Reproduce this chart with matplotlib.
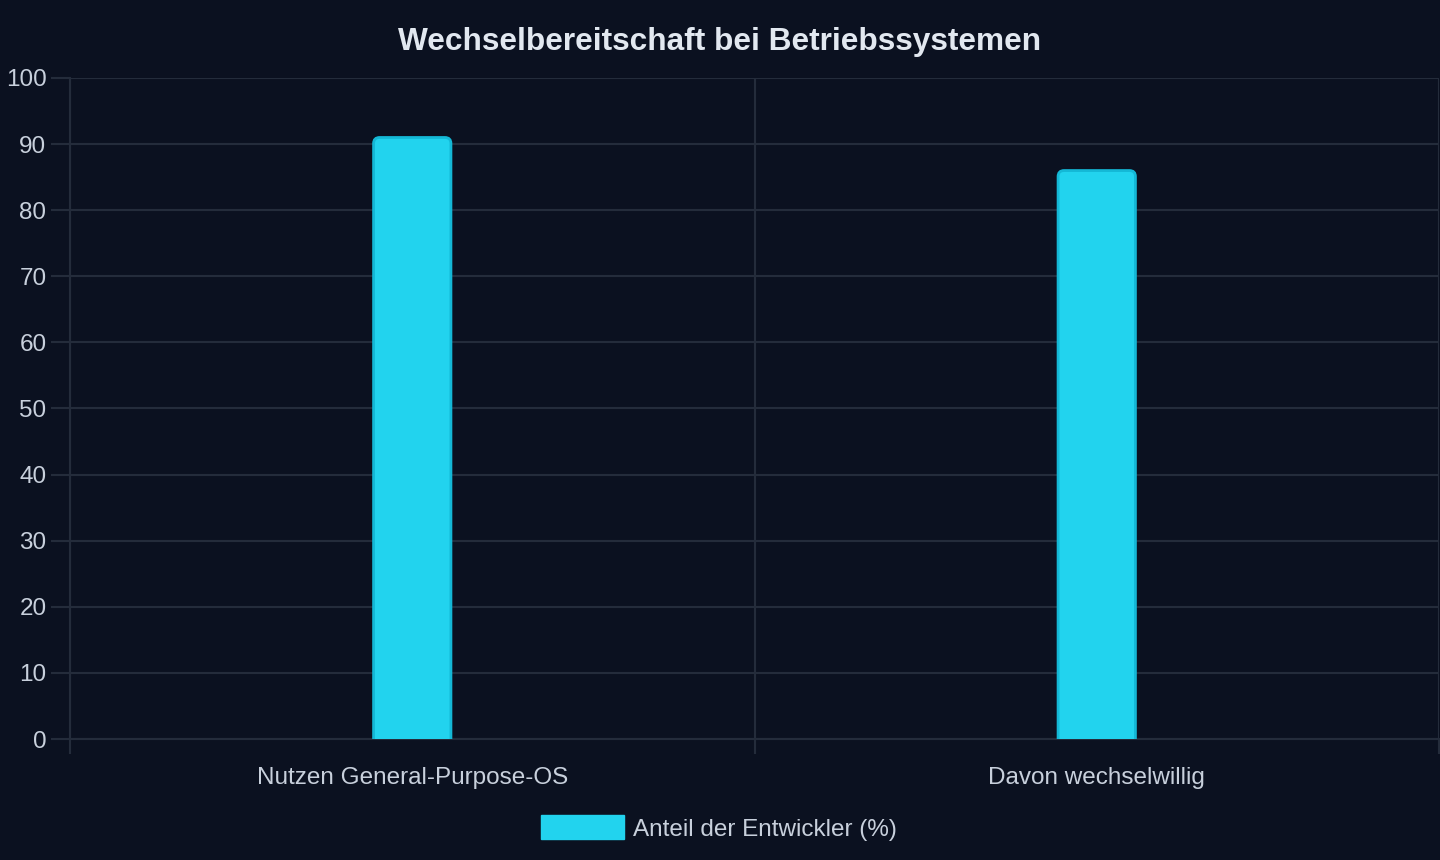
import matplotlib
matplotlib.use("Agg")
import matplotlib.pyplot as plt
from matplotlib.patches import FancyBboxPatch, Patch

categories = ["Nutzen General-Purpose-OS", "Davon wechselwillig"]
values = [91, 86]
series_label = "Anteil der Entwickler (%)"
title = "Wechselbereitschaft bei Betriebssystemen"
yticks = list(range(0, 101, 10))

BG = "#0b1120"
GRID = "#242c3b"
BAR = "#22d3ee"
EDGE = "#14b8d6"
TXT = "#c8d0dc"
TITLE_C = "#e2e8f0"

plt.rcParams['font.family'] = ['Liberation Sans', 'DejaVu Sans']

fig = plt.figure(figsize=(14.4, 8.6), dpi=100, facecolor=BG)
W, H = 1440, 860
ax = fig.add_axes([70 / W, (H - 739) / H, (1439 - 70) / W, (739 - 78) / H])
ax.set_facecolor(BG)

x = list(range(len(categories)))
bw = 0.113
bars = ax.bar(x, values, width=bw, color=BAR, alpha=0)

# rounded-top bars
px_per_x = (1439 - 70) / 2.0
px_per_y = (739 - 78) / 100.0
r_px = 6
rx = r_px / px_per_x
ry = r_px / px_per_y
for b in bars:
    x0 = b.get_x()
    h = b.get_height()
    p = FancyBboxPatch((x0, -ry * 2), b.get_width(), h + ry * 2,
                       boxstyle=f"round,pad=0,rounding_size={rx}",
                       mutation_aspect=ry / rx,
                       facecolor=BAR, edgecolor=EDGE, linewidth=2.0,
                       clip_on=True, zorder=3)
    ax.add_patch(p)

ax.set_xlim(-0.5, 1.5)
ax.set_ylim(0, 100)
ax.set_yticks(yticks)
ax.set_xticks(x)
ax.set_xticklabels(categories)
ax.set_xticks([-0.5, 0.5, 1.5], minor=True)

ax.grid(axis='y', which='major', color=GRID, linewidth=1.5, zorder=0)
ax.grid(axis='x', which='minor', color=GRID, linewidth=1.5, zorder=0)
ax.set_axisbelow(True)

ax.tick_params(axis='y', which='major', length=14, color=GRID, width=1.5,
               labelcolor=TXT, labelsize=17.5, pad=3)
ax.tick_params(axis='x', which='major', length=0, labelcolor=TXT,
               labelsize=17.5, pad=20.5)
ax.tick_params(axis='x', which='minor', length=11, color=GRID, width=1.5)

for s in ['top', 'right']:
    ax.spines[s].set_visible(False)
for s in ['left', 'bottom']:
    ax.spines[s].set_color(GRID)
    ax.spines[s].set_linewidth(1.5)

fig.text(720 / W, 1 - 42 / H, title, ha='center', va='center',
         fontsize=22.8, fontweight='bold', color=TITLE_C)

leg = fig.legend(handles=[Patch(facecolor=BAR, edgecolor=BAR, label=series_label)],
                 loc='center', bbox_to_anchor=(719 / W, 1 - 828 / H),
                 frameon=False, fontsize=17.5, labelcolor=TXT,
                 handlelength=3.4, handleheight=1.15, handletextpad=0.4)

fig.savefig("out.png", dpi=100, facecolor=BG)
